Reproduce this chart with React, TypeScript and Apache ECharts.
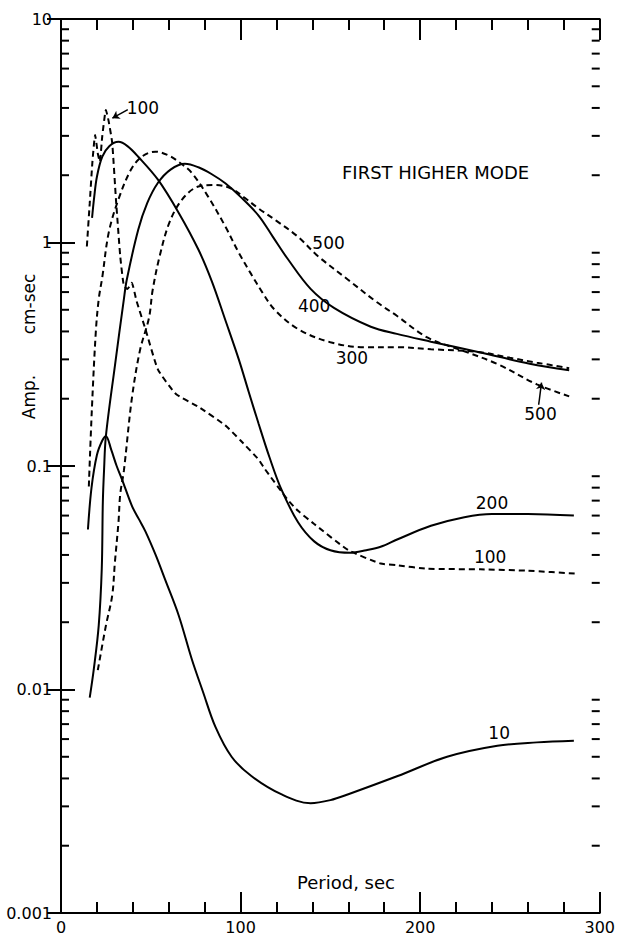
import React, { useEffect, useRef } from "react";
import * as echarts from "echarts";

// ---- data (period in sec, amplitude in cm-sec) ----
const CURVE_10: [number, number][] = [
  [15, 0.052], [17, 0.08], [20, 0.112], [23, 0.13], [25, 0.136], [28, 0.118], [31, 0.1],
  [34, 0.087], [39.6, 0.066], [43.3, 0.058], [47, 0.051], [52.7, 0.04], [58, 0.031],
  [65.5, 0.0215], [72.8, 0.0137], [79, 0.0098], [86, 0.0068], [95, 0.005], [106, 0.0041],
  [122.6, 0.0034], [139, 0.0031], [150, 0.0032], [160, 0.0034], [187.5, 0.0041],
  [215, 0.005], [243, 0.0056], [265, 0.0058], [285.6, 0.0059],
];
const CURVE_200: [number, number][] = [
  [17.3, 1.29], [18.5, 1.6], [20, 1.97], [23, 2.42], [27, 2.7], [32, 2.82], [37, 2.7],
  [43, 2.42], [54, 1.91], [65.5, 1.36], [76.5, 0.93], [84, 0.67], [91.5, 0.45], [99, 0.3],
  [104.5, 0.215], [110, 0.155], [116, 0.11], [122.6, 0.079], [132, 0.056], [141, 0.046],
  [150, 0.042], [161, 0.0409], [170, 0.042], [178, 0.0435], [187.5, 0.047], [206, 0.054],
  [224.6, 0.059], [240, 0.061], [260, 0.061], [285.6, 0.06],
];
const CURVE_400: [number, number][] = [
  [16, 0.0092], [18.3, 0.0124], [21, 0.0193], [22.7, 0.0347], [23.3, 0.069], [24, 0.097],
  [25, 0.136], [30, 0.28], [35, 0.557], [36.6, 0.68], [43, 1.14], [48, 1.5], [54, 1.85],
  [61, 2.12], [69, 2.25], [76.5, 2.17], [84, 2.02], [91.5, 1.84], [100, 1.6], [110, 1.32],
  [118, 1.06], [126, 0.85], [139, 0.62], [152, 0.51], [172.5, 0.42], [187, 0.39], [206, 0.36],
  [233.5, 0.322], [261, 0.287], [283, 0.268],
];
const CURVE_100: [number, number][] = [
  [14.4, 0.96], [16, 1.5], [17.5, 2.3], [19, 3.03], [20.5, 2.5], [21.6, 2.3], [23, 3.0],
  [25, 3.92], [26.5, 3.5], [28.5, 2.8], [30.6, 1.56], [33, 0.866], [35, 0.64], [37, 0.62],
  [39.4, 0.66], [42, 0.55], [47, 0.41], [54, 0.27], [64, 0.21], [76.5, 0.184], [91.5, 0.152],
  [100, 0.13], [110, 0.107], [113.5, 0.097], [126, 0.071], [132, 0.063], [141, 0.055],
  [160, 0.042], [178, 0.0366], [187, 0.036], [204, 0.0347], [233.5, 0.0345], [260, 0.034],
  [287, 0.033],
];
const CURVE_300: [number, number][] = [
  [15.5, 0.081], [17.2, 0.18], [19.4, 0.4], [21, 0.557], [23, 0.7], [26.6, 1.11], [32, 1.56],
  [39, 2.12], [45, 2.42], [52.6, 2.55], [60, 2.45], [66, 2.28], [72.8, 2.05], [82, 1.6],
  [91.5, 1.18], [99, 0.9], [106, 0.72], [112, 0.6], [119, 0.5], [132, 0.41], [150, 0.358],
  [169, 0.34], [187, 0.34], [206, 0.333], [233.5, 0.323], [250, 0.305], [265, 0.29],
  [283, 0.274],
];
const CURVE_500: [number, number][] = [
  [20.5, 0.0122], [25, 0.0193], [28.5, 0.0263], [30, 0.037], [32, 0.056], [33, 0.075],
  [35, 0.095], [39.4, 0.199], [44, 0.33], [49, 0.46], [51, 0.61], [54.9, 0.866], [60.4, 1.23],
  [67.5, 1.56], [76.5, 1.78], [86, 1.81], [95, 1.74], [102.5, 1.58], [110, 1.42], [120, 1.25],
  [132, 1.06], [143, 0.87], [160, 0.68], [176, 0.54], [187, 0.47], [204, 0.376],
  [224.6, 0.326], [243, 0.286], [265, 0.232], [283, 0.205],
];

const X_MIN = 0;
const X_MAX = 300;
const X_INTERVAL = 100;
const Y_MIN = 0.001;
const Y_MAX = 10;
const Y_TICK_LABELS = ["0.001", "0.01", "0.1", "1", "10"];
const Y_DECADES = [0.001, 0.01, 0.1, 1];
const Y_MULTIPLIERS = [2, 3, 4, 5, 6, 7, 8, 9];

const LABEL_TEXTS = ["100", "500", "400", "300", "500", "200", "100", "10"];
const LABEL_X = [45.6, 149, 141, 162, 267, 240, 239, 244];
const LABEL_Y = [4.0, 1.0, 0.52, 0.305, 0.17, 0.068, 0.039, 0.0064];

const ARROWS: [number, number][][] = [
  [[37.2, 3.93], [28.6, 3.6]],
  [[266, 0.188], [267.6, 0.236]],
];

const TITLE = "FIRST HIGHER MODE";
const X_TITLE = "Period, sec";
const Y_TITLE_A = "Amp.";
const Y_TITLE_B = "cm-sec";

const FONT = "'DejaVu Sans', 'Liberation Sans', sans-serif";
const INK = "#000";

export default function App() {
  const ref = useRef<HTMLDivElement>(null);

  useEffect(() => {
    if (!ref.current) return;
    const chart = echarts.init(ref.current, undefined, { renderer: "svg" });

    const minorY: [number, number][] = [];
    Y_DECADES.forEach((d) => Y_MULTIPLIERS.forEach((m) => minorY.push([X_MIN, d * m])));
    const labelData = LABEL_TEXTS.map((t, i) => [LABEL_X[i], LABEL_Y[i], i]);

    const xAxisBase = {
      type: "value" as const,
      min: X_MIN,
      max: X_MAX,
      interval: X_INTERVAL,
      axisLine: { show: true, lineStyle: { color: INK, width: 2 } },
      axisTick: { show: true, inside: true, length: 21, lineStyle: { color: INK, width: 2 } },
      minorTick: { show: true, splitNumber: 5, length: 11, lineStyle: { color: INK, width: 2 } },
      splitLine: { show: false },
      minorSplitLine: { show: false },
    };
    const yAxisBase = {
      type: "log" as const,
      logBase: 10,
      min: Y_MIN,
      max: Y_MAX,
      axisLine: { show: true, lineStyle: { color: INK, width: 2 } },
      axisTick: { show: true, inside: true, length: 14, lineStyle: { color: INK, width: 2 } },
      splitLine: { show: false },
    };

    const lineSeries = (name: string, data: [number, number][], dashed: boolean, smooth = 0.35) => ({
      name,
      type: "line" as const,
      data,
      smooth,
      symbol: "none",
      silent: true,
      lineStyle: { color: INK, width: 2, type: dashed ? [6, 4] : "solid" },
    });

    chart.setOption({
      animation: false,
      backgroundColor: "#fff",
      textStyle: { fontFamily: FONT },
      grid: { left: 61, right: 17, top: 19, bottom: 21, containLabel: false },
      xAxis: [
        {
          ...xAxisBase,
          position: "bottom",
          axisLabel: { show: true, color: INK, fontSize: 16, fontFamily: FONT, margin: 6 },
        },
        { ...xAxisBase, position: "top", axisLabel: { show: false } },
      ],
      yAxis: [
        {
          ...yAxisBase,
          position: "left",
          axisLabel: {
            show: true,
            color: INK,
            fontSize: 16,
            fontFamily: FONT,
            margin: 9,
            formatter: (v: number) => {
              const e = Math.round(Math.log10(v));
              return Y_TICK_LABELS[e + 3] ?? "";
            },
          },
        },
        { ...yAxisBase, position: "right", axisLabel: { show: false } },
      ],
      series: [
        lineSeries("10", CURVE_10, false),
        lineSeries("200", CURVE_200, false),
        lineSeries("400", CURVE_400, false),
        lineSeries("100", CURVE_100, true, 0.15),
        lineSeries("300", CURVE_300, true),
        lineSeries("500", CURVE_500, true),
        {
          type: "custom",
          name: "minorTicks",
          silent: true,
          clip: false,
          data: minorY,
          renderItem: (_p: any, api: any) => {
            const v = api.value(1);
            const l = api.coord([X_MIN, v]);
            const r = api.coord([X_MAX, v]);
            const st = { stroke: INK, lineWidth: 2 };
            return {
              type: "group",
              children: [
                { type: "line", shape: { x1: l[0], y1: l[1], x2: l[0] + 8, y2: l[1] }, style: st },
                { type: "line", shape: { x1: r[0] - 8, y1: r[1], x2: r[0], y2: r[1] }, style: st },
              ],
            };
          },
        },
        {
          type: "custom",
          name: "curveLabels",
          silent: true,
          clip: false,
          data: labelData,
          renderItem: (_p: any, api: any) => {
            const pt = api.coord([api.value(0), api.value(1)]);
            const idx = api.value(2);
            return {
              type: "text",
              x: pt[0],
              y: pt[1],
              style: {
                text: LABEL_TEXTS[idx],
                fill: INK,
                font: `17px ${FONT}`,
                align: "center",
                verticalAlign: "middle",
              },
            };
          },
        },
        {
          type: "lines",
          name: "arrows",
          coordinateSystem: "cartesian2d",
          silent: true,
          symbol: ["none", "arrow"],
          symbolSize: 7,
          lineStyle: { color: INK, width: 1.5, opacity: 1 },
          data: ARROWS.map((c) => ({ coords: c })),
        },
      ],
      graphic: [
        {
          type: "text",
          x: 342,
          y: 172,
          style: { text: TITLE, fill: INK, font: `18px ${FONT}`, align: "left", verticalAlign: "middle" },
        },
        {
          type: "text",
          x: 297,
          y: 882,
          style: { text: X_TITLE, fill: INK, font: `18px ${FONT}`, align: "left", verticalAlign: "middle" },
        },
        {
          type: "text",
          x: 29,
          y: 397,
          rotation: Math.PI / 2,
          style: { text: Y_TITLE_A, fill: INK, font: `17px ${FONT}`, align: "center", verticalAlign: "middle" },
        },
        {
          type: "text",
          x: 29,
          y: 304,
          rotation: Math.PI / 2,
          style: { text: Y_TITLE_B, fill: INK, font: `17px ${FONT}`, align: "center", verticalAlign: "middle" },
        },
      ],
    });

    return () => chart.dispose();
  }, []);

  return (
    <div
      ref={ref}
      style={{ position: "fixed", left: 0, top: 0, width: 618, height: 935, background: "#fff" }}
    />
  );
}
